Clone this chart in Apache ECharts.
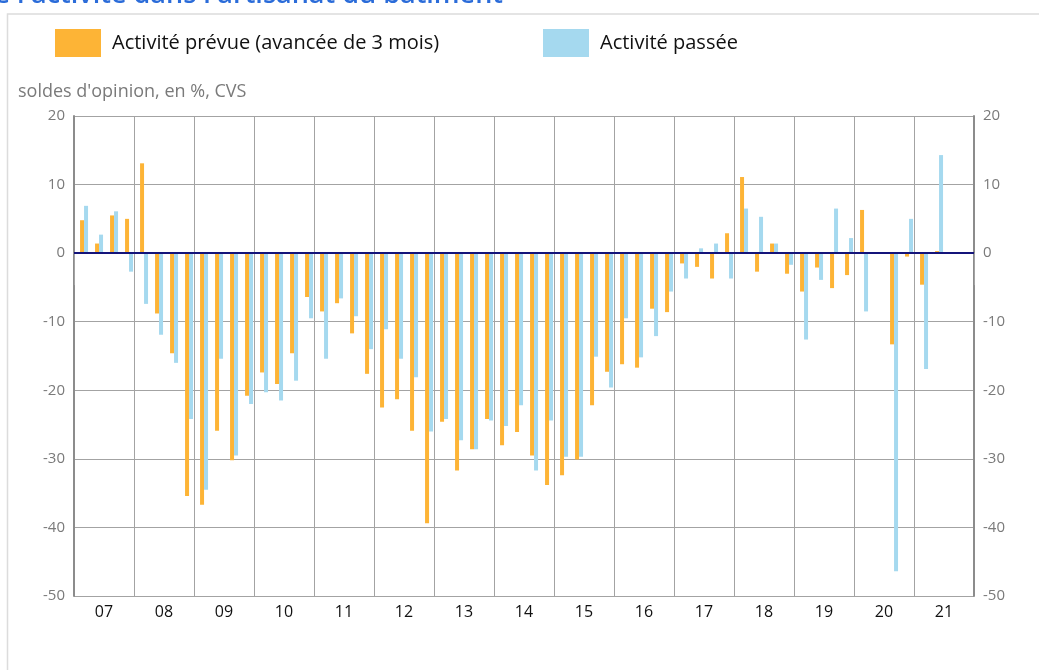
<!DOCTYPE html>
<html>
<head>
<meta charset="utf-8">
<script src="https://cdn.jsdelivr.net/npm/echarts@6/dist/echarts.min.js"></script>
<style>
  html, body { margin: 0; padding: 0; background: #fff; }
  #chart { width: 1039px; height: 670px; }
</style>
</head>
<body>
<div id="chart"></div>
<script>
// années (axe des abscisses, 4 trimestres par année)
const years = ['07', '08', '09', '10', '11', '12', '13', '14', '15', '16', '17', '18', '19', '20', '21'];

// Activité prévue (avancée de 3 mois), trimestriel
const prevue = [
  4.8, 1.4, 5.5, 5.0,
  13.1, -8.8, -14.6, -35.4,
  -36.7, -25.9, -30.2, -20.8,
  -17.4, -19.1, -14.6, -6.4,
  -8.5, -7.3, -11.7, -17.6,
  -22.5, -21.3, -25.9, -39.4,
  -24.6, -31.7, -28.6, -24.2,
  -28.0, -26.1, -29.5, -33.8,
  -32.4, -30.1, -22.2, -17.3,
  -16.2, -16.7, -8.1, -8.6,
  -1.5, -2.0, -3.7, 2.9,
  11.1, -2.7, 1.4, -3.0,
  -5.6, -2.1, -5.1, -3.2,
  6.3, null, -13.3, -0.5,
  -4.6, 0.3, null, null
];

// Activité passée, trimestriel
const passee = [
  6.9, 2.7, 6.1, -2.7,
  -7.4, -11.9, -16.0, -24.2,
  -34.5, -15.4, -29.5, -22.0,
  -20.3, -21.5, -18.6, -9.5,
  -15.4, -6.6, -9.2, -14.0,
  -11.1, -15.4, -18.1, -26.0,
  -24.2, -27.3, -28.6, -24.4,
  -25.2, -22.2, -31.7, -24.4,
  -29.7, -29.7, -15.1, -19.6,
  -9.5, -15.2, -12.1, -5.6,
  -3.7, 0.7, 1.4, -3.7,
  6.5, 5.3, 1.4, -1.7,
  -12.6, -3.9, 6.5, 2.2,
  -8.5, null, -46.4, 5.0,
  -16.9, 14.3, null, null
];

const FONT = '"Open Sans", "Noto Sans", sans-serif';
const nbQuarters = years.length * 4;

// les barres sont un peu décalées vers la droite dans chaque trimestre
function toPoints(values) {
  const pts = [];
  values.forEach((v, i) => {
    if (v !== null) pts.push([i + 0.67, v]);
  });
  return pts;
}

const chart = echarts.init(document.getElementById('chart'), null, { renderer: 'canvas' });

const yCommon = {
  type: 'value',
  min: -50,
  max: 20,
  interval: 10,
  axisLine: { show: true, lineStyle: { color: '#8c8c8c', width: 2 } },
  axisTick: { show: false },
  axisLabel: { color: '#7a7a7a', fontSize: 15, fontFamily: FONT, margin: 9 },
  splitLine: { show: true, lineStyle: { color: '#a3a3a3', width: 1 } }
};

const legendCommon = {
  top: 24,
  itemWidth: 46,
  itemHeight: 28,
  icon: 'rect',
  textStyle: { color: '#111', fontSize: 20, fontFamily: FONT, padding: [8, 0, 0, 6] }
};

chart.setOption({
  animation: false,
  backgroundColor: '#fff',
  graphic: [
    {
      type: 'rect',
      shape: { x: 7.5, y: 14, width: 1100, height: 700 },
      style: { fill: 'none', stroke: '#dcdcdc', lineWidth: 1.5 },
      silent: true
    },
    {
      type: 'text',
      x: 503,
      y: 9,
      style: {
        text: "Évolution de l'activité dans l'artisanat du bâtiment",
        fill: '#2b6cd9',
        font: '600 27px ' + FONT,
        textAlign: 'right',
        textVerticalAlign: 'bottom'
      },
      silent: true
    },
    {
      type: 'text',
      x: 18,
      y: 92,
      style: {
        text: "soldes d'opinion, en %, CVS",
        fill: '#7a7a7a',
        font: '18px ' + FONT,
        textVerticalAlign: 'middle'
      },
      silent: true
    }
  ],
  legend: [
    Object.assign({ data: ['Activité prévue (avancée de 3 mois)'], left: 50 }, legendCommon),
    Object.assign({ data: ['Activité passée'], left: 538 }, legendCommon)
  ],
  grid: { left: 74, right: 65, top: 116, bottom: 74, containLabel: false },
  xAxis: [
    {
      type: 'value',
      min: 0,
      max: nbQuarters,
      show: false
    },
    {
      type: 'category',
      data: years,
      position: 'bottom',
      boundaryGap: true,
      axisLine: { show: true, lineStyle: { color: '#a3a3a3', width: 1 } },
      axisTick: { show: true, interval: 0, length: 32, lineStyle: { color: '#a3a3a3', width: 1 } },
      axisLabel: { color: '#111', fontSize: 16, fontFamily: FONT, margin: 8, interval: 0 },
      splitLine: { show: true, interval: 0, lineStyle: { color: '#a3a3a3', width: 1 } }
    }
  ],
  yAxis: [
    Object.assign({ position: 'left' }, yCommon),
    Object.assign({ position: 'right' }, yCommon, { splitLine: { show: false } })
  ],
  series: [
    {
      name: 'Activité prévue (avancée de 3 mois)',
      type: 'bar',
      xAxisIndex: 0,
      yAxisIndex: 0,
      data: toPoints(prevue),
      barWidth: 4,
      barGap: '0%',
      itemStyle: { color: '#FDB436' },
      markLine: {
        silent: true,
        symbol: 'none',
        label: { show: false },
        lineStyle: { color: '#14147a', width: 2, type: 'solid' },
        data: [{ yAxis: 0 }]
      },
      z: 3
    },
    {
      name: 'Activité passée',
      type: 'bar',
      xAxisIndex: 0,
      yAxisIndex: 0,
      data: toPoints(passee),
      barWidth: 4,
      barGap: '0%',
      itemStyle: { color: '#A5D9EF' },
      z: 3
    }
  ]
});
</script>
</body>
</html>
